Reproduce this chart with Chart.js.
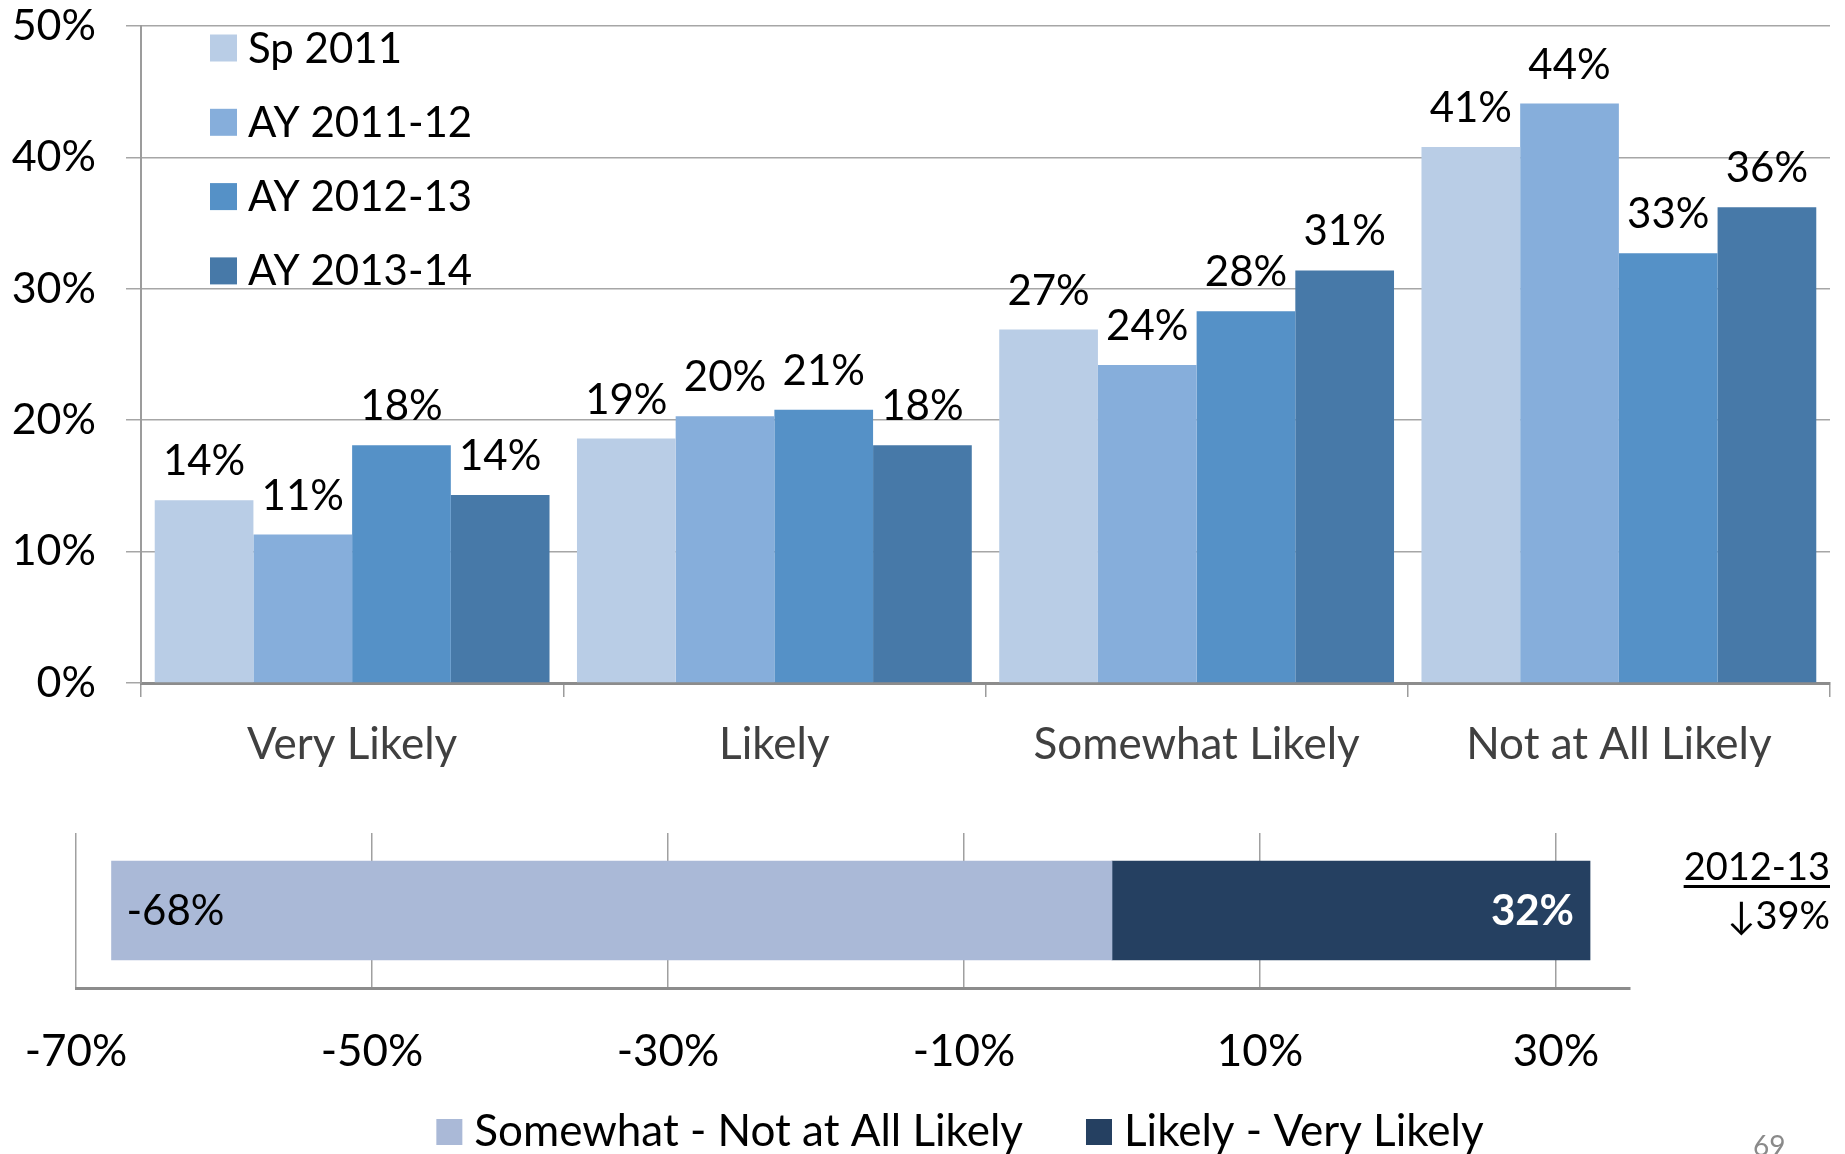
<!DOCTYPE html>
<html>
<head>
<meta charset="utf-8">
<script src="https://cdn.jsdelivr.net/npm/chart.js@4.4.1/dist/chart.umd.min.js"></script>
<style>
html, body { margin: 0; padding: 0; background: #fff; }
body { width: 1845px; height: 1154px; overflow: hidden; position: relative; font-family: Lato, sans-serif; }
#top { position: absolute; left: 0; top: 0; }
#bottom { position: absolute; left: 0; top: 800px; }
.note { position: absolute; right: 15px; text-align: right; font-size: 38px; color: #000; line-height: 1; }
#year { top: 846px; text-decoration: underline; text-decoration-thickness: 3px; text-underline-offset: 5px; }
#change { top: 895px; }
#page { position: absolute; left: 1753px; top: 1128px; font-size: 28px; color: #8a8a8a; }
</style>
</head>
<body>
<canvas id="top" width="1845" height="800"></canvas>
<canvas id="bottom" width="1845" height="400"></canvas>
<div class="note" id="year">2012-13</div>
<div class="note" id="change">↓39%</div>
<div id="page">69</div>
<script>
// --- data ---
const categories = ['Very Likely', 'Likely', 'Somewhat Likely', 'Not at All Likely'];
const seriesNames = ['Sp 2011', 'AY 2011-12', 'AY 2012-13', 'AY 2013-14'];
const sp2011 = [13.9, 18.6, 26.9, 40.8];
const ay1112 = [11.3, 20.3, 24.2, 44.1];
const ay1213 = [18.1, 20.8, 28.3, 32.7];
const ay1314 = [14.3, 18.1, 31.4, 36.2];
const yTicks = [0, 10, 20, 30, 40, 50];

const netNames = ['Somewhat - Not at All Likely', 'Likely - Very Likely'];
const notLikely = [-67.6];
const likely = [32.3];
const netTicks = [-70, -50, -30, -10, 10, 30];

const seriesColors = ['#B9CDE6', '#86AEDB', '#5591C7', '#4779A8'];
const netColors = ['#AAB9D7', '#254061'];
const FONT = 'Lato';

// drop the extra room Chart.js keeps for overhanging tick labels
function noOverhang(s) {
    s.paddingTop = 0; s.paddingBottom = 0;
    s.paddingLeft = 0; s.paddingRight = 0;
}

// labels above bars + legend inside the plot
const topExtras = {
    id: 'topExtras',
    afterDatasetsDraw(chart) {
        const ctx = chart.ctx;
        const area = chart.chartArea;
        ctx.save();
        ctx.font = '42px ' + FONT;
        ctx.fillStyle = '#000';
        ctx.textAlign = 'center';
        ctx.textBaseline = 'alphabetic';
        chart.data.datasets.forEach((ds, i) => {
            chart.getDatasetMeta(i).data.forEach((bar, j) => {
                ctx.fillText(Math.round(ds.data[j]) + '%', bar.x, bar.y - 25);
            });
        });

        ctx.textAlign = 'left';
        ctx.textBaseline = 'middle';
        chart.data.datasets.forEach((ds, i) => {
            const cy = area.top + 22 + i * 74.3;
            ctx.fillStyle = ds.backgroundColor;
            ctx.fillRect(area.left + 69, cy - 13.5, 27, 27);
            ctx.fillStyle = '#000';
            ctx.fillText(ds.label, area.left + 107, cy + 1);
        });
        ctx.restore();
    }
};

new Chart(document.getElementById('top'), {
    type: 'bar',
    data: {
        labels: categories,
        datasets: [sp2011, ay1112, ay1213, ay1314].map((d, i) => ({
            label: seriesNames[i],
            data: d,
            backgroundColor: seriesColors[i],
            categoryPercentage: 0.935,
            barPercentage: 1.0
        }))
    },
    options: {
        responsive: false,
        animation: false,
        layout: { padding: { top: 26, right: 15, left: 0, bottom: 0 } },
        scales: {
            x: {
                afterFit: s => { s.height = 117; noOverhang(s); },
                grid: { drawOnChartArea: false, tickLength: 14, color: '#9C9C9C', lineWidth: 1.5 },
                border: { color: '#8C8C8C', width: 3 },
                ticks: { padding: 21, color: '#404040', font: { family: FONT, size: 44 } }
            },
            y: {
                min: 0, max: 50,
                afterFit: s => { s.width = 141; noOverhang(s); },
                afterBuildTicks: s => { s.ticks = yTicks.map(v => ({ value: v })); },
                grid: { color: '#A6A6A6', lineWidth: 1.5, tickLength: 15 },
                border: { color: '#9C9C9C', width: 2 },
                ticks: { padding: 30, color: '#000', font: { family: FONT, size: 43 }, callback: v => v + '%' }
            }
        },
        plugins: { legend: { display: false }, tooltip: { enabled: false } }
    },
    plugins: [topExtras]
});

// --- net chart: labels in bars + legend below ---
const netExtras = {
    id: 'netExtras',
    afterDatasetsDraw(chart) {
        const ctx = chart.ctx;
        ctx.save();
        ctx.textBaseline = 'middle';
        const neg = chart.getDatasetMeta(0).data[0];
        const pos = chart.getDatasetMeta(1).data[0];
        ctx.font = '42px ' + FONT;
        ctx.fillStyle = '#000';
        ctx.textAlign = 'left';
        ctx.fillText(Math.round(notLikely[0]) + '%', neg.x + 15, neg.y + 1);
        ctx.font = 'bold 42px ' + FONT;
        ctx.fillStyle = '#fff';
        ctx.textAlign = 'right';
        ctx.fillText(Math.round(likely[0]) + '%', pos.x - 16, pos.y + 1);

        // legend
        ctx.font = '44px ' + FONT;
        ctx.textAlign = 'left';
        const box = 26, gapText = 12, gapItem = 63;
        const widths = netNames.map(n => box + gapText + ctx.measureText(n).width);
        const total = widths[0] + widths[1] + gapItem;
        let x = 960 - total / 2;
        const cy = 332;
        netNames.forEach((n, i) => {
            ctx.fillStyle = netColors[i];
            ctx.fillRect(x, cy - box / 2, box, box);
            ctx.fillStyle = '#000';
            ctx.fillText(n, x + box + gapText, cy);
            x += widths[i] + gapItem;
        });
        ctx.restore();
    }
};

new Chart(document.getElementById('bottom'), {
    type: 'bar',
    data: {
        labels: [''],
        datasets: [
            { label: netNames[0], data: notLikely, backgroundColor: netColors[0], barThickness: 99 },
            { label: netNames[1], data: likely, backgroundColor: netColors[1], barThickness: 99 }
        ]
    },
    options: {
        indexAxis: 'y',
        responsive: false,
        animation: false,
        layout: { padding: { top: 33, left: 76, right: 215, bottom: 102 } },
        scales: {
            x: {
                stacked: true,
                min: -70, max: 35,
                afterBuildTicks: s => { s.ticks = netTicks.map(v => ({ value: v })); },
                afterFit: s => { s.height = 110; noOverhang(s); },
                grid: { color: '#A0A0A0', lineWidth: 1.5, drawTicks: false },
                border: { color: '#8C8C8C', width: 3 },
                ticks: { padding: 37, color: '#000', font: { family: FONT, size: 44 }, callback: v => v + '%' }
            },
            y: { stacked: true, display: false }
        },
        plugins: { legend: { display: false }, tooltip: { enabled: false } }
    },
    plugins: [netExtras]
});
</script>
</body>
</html>
